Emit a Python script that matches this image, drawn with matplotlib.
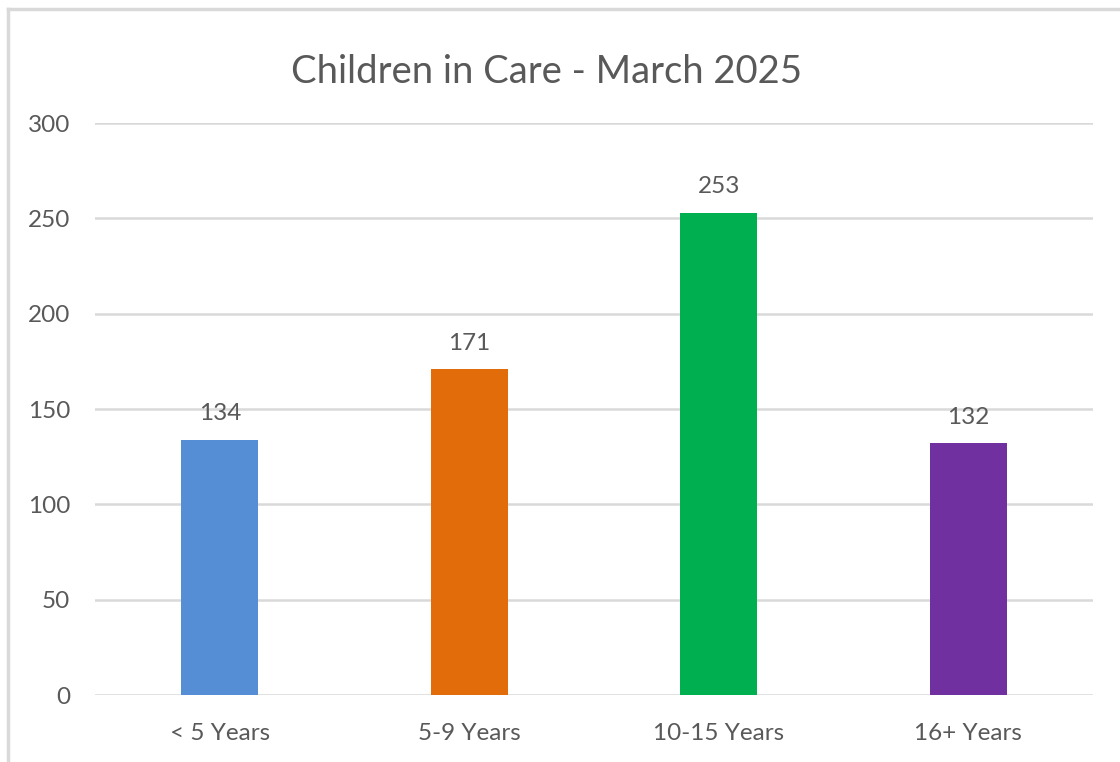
import matplotlib
matplotlib.use("Agg")
import matplotlib.pyplot as plt
from matplotlib.lines import Line2D

categories = ["< 5 Years", "5-9 Years", "10-15 Years", "16+ Years"]
counts = [134, 171, 253, 132]
colors = ["#558ED5", "#E26B0A", "#00B050", "#7030A0"]
yticks = [0, 50, 100, 150, 200, 250, 300]

plt.rcParams['font.family'] = ['Lato', 'DejaVu Sans']
text_col = "#595959"

fig = plt.figure(figsize=(11.2, 7.62), dpi=100)
ax = fig.add_axes([95 / 1120, 1 - 695 / 762, 998 / 1120, 572 / 762])

x = list(range(len(categories)))
bars = ax.bar(x, counts, width=0.31, color=colors, zorder=3)
for xi, v in zip(x, counts):
    ax.annotate(str(v), (xi, v), xytext=(0, 11), textcoords="offset points",
                ha="center", va="bottom", fontsize=17.5, color=text_col)

ax.set_xlim(-0.5, len(categories) - 0.5)
ax.set_ylim(0, 300)
ax.set_yticks(yticks)
ax.set_xticks(x)
ax.set_xticklabels(categories)
ax.grid(axis="y", color="#D9D9D9", linewidth=1.8, zorder=0)
ax.tick_params(axis="both", length=0, labelsize=17.5, colors=text_col)
ax.tick_params(axis="y", pad=18)
ax.tick_params(axis="x", pad=20)
for s in ax.spines.values():
    s.set_visible(False)

fig.text(547 / 1120, 1 - 72 / 762, "Children in Care - March 2025",
         ha="center", va="center", fontsize=27.5, color=text_col)

# chart frame (left and top edges visible)
fig.add_artist(Line2D([8 / 1120, 8 / 1120], [0, 1 - 9 / 762], color="#D9D9D9", lw=2.5,
                      transform=fig.transFigure))
fig.add_artist(Line2D([8 / 1120, 1], [1 - 9 / 762, 1 - 9 / 762], color="#D9D9D9", lw=2.5,
                      transform=fig.transFigure))

fig.savefig("out.png", dpi=100, facecolor="white")
